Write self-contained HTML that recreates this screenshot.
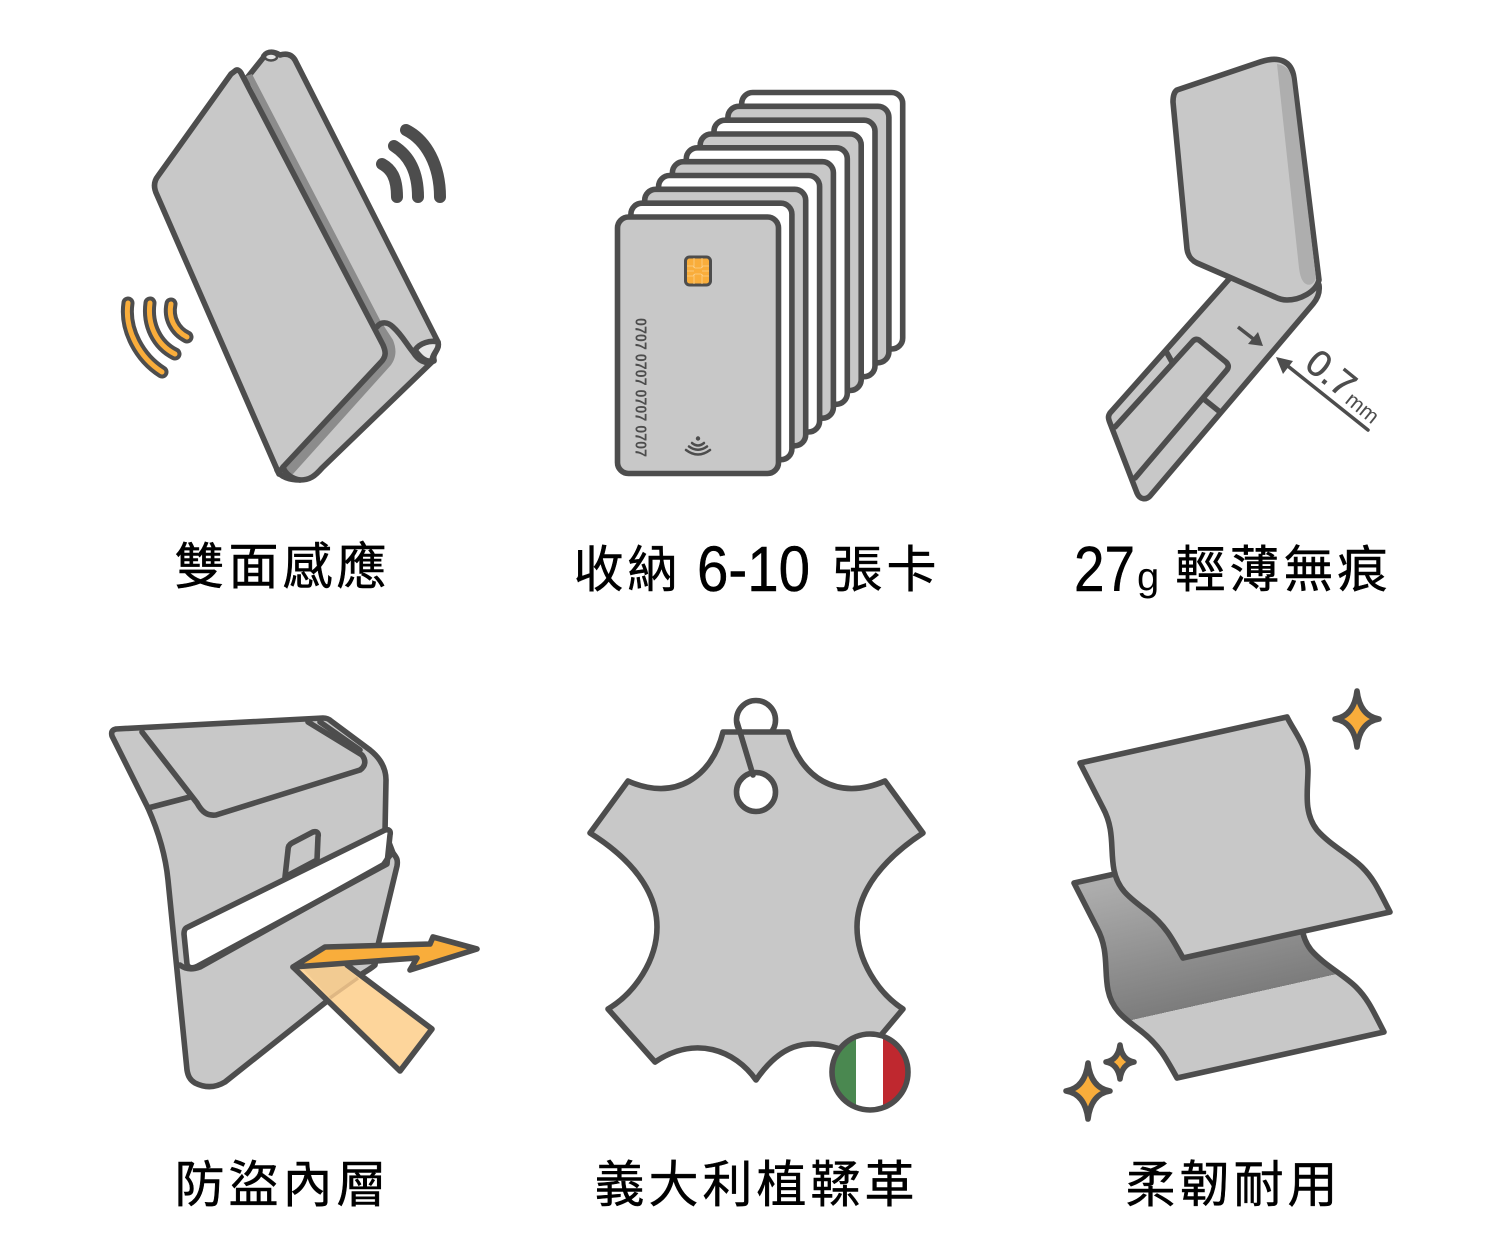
<!DOCTYPE html>
<html><head><meta charset="utf-8"><style>html,body{margin:0;padding:0;background:#fff}svg{display:block}
.s{stroke:#4d4d4d;stroke-width:5.6;stroke-linejoin:round;stroke-linecap:round}
.g{fill:#c8c8c8}.n{fill:none}
.t{font-family:"Liberation Sans","Noto Sans CJK TC",sans-serif;font-size:50px;letter-spacing:4px;fill:#000;stroke:#000;stroke-width:.5}
.l{font-family:"Liberation Sans",sans-serif;fill:#000}
</style></head><body>
<svg width="1500" height="1250" viewBox="0 0 1500 1250" xmlns="http://www.w3.org/2000/svg">
<defs>
<linearGradient id="gr" gradientUnits="userSpaceOnUse" x1="1100" y1="885" x2="1160.7" y2="1155.6">
<stop offset="0" stop-color="#adadad"/><stop offset=".5" stop-color="#7c7c7c"/><stop offset=".5" stop-color="#c8c8c8"/><stop offset="1" stop-color="#c8c8c8"/>
</linearGradient>
<clipPath id="fc"><circle cx="870" cy="1072" r="38"/></clipPath>
</defs>

<!-- wallet -->
<path class="s g" d="M247,78 L263,58 C265,52 272,50 280,55 C287,53 292,55 295,60 L438,342 C440,350 432,353 434,360 L322,468 C315,476 310,480 300,480 C290,480 280,477 277,470 Z"/>
<path fill="#8c8c8c" d="M246,76 L252,74 L380,320 L393,340 C397,350 396,358 391,365 L293,474 L280,472 L385,350 Z"/>
<path class="s g" d="M235,71 C237,69 240,70 242,75 L383,345 C386,352 386,356 382,361 L284,466 C281,470 279,472 279,474 L157,195 C153,187 154,181 158,176 L231,74 Z"/>
<path class="s n" d="M377,327 C381,321 388,322 393,327 C402,335 407,345 413,352 C418,360 425,365 434,361"/>
<path class="s" fill="#e6e6e6" d="M415,350 C420,343 430,340 438,342 C440,350 432,353 432,361 C425,362 420,357 415,350 Z"/>
<ellipse cx="271" cy="57" rx="6" ry="3.5" fill="#e6e6e6" stroke="#4d4d4d" stroke-width="2.5"/>
<path class="s n" d="M283,467 C285,474 293,479 300,480"/>
<g fill="none" stroke="#4d4d4d" stroke-width="12" stroke-linecap="round">
<path d="M382,164 C391,169 397,177 397,197"/><path d="M394,146 C408,155 418,170 418,197"/><path d="M406,130 C426,140 440,165 440,197"/>
</g>
<g fill="none" stroke="#4d4d4d" stroke-width="13" stroke-linecap="round">
<path d="M128,303 C124,330 140,358 162,372"/><path d="M150,303 C147,325 157,345 175,354"/><path d="M171,304 C168,318 175,331 187,337"/>
</g>
<g fill="none" stroke="#f9ad3b" stroke-width="5" stroke-linecap="round">
<path d="M128,303 C124,330 140,358 162,372"/><path d="M150,303 C147,325 157,345 175,354"/><path d="M171,304 C168,318 175,331 187,337"/>
</g>

<!-- cards -->
<g class="s">
<rect x="741.7" y="92.5" width="161" height="256.5" rx="11" fill="#fff"/>
<rect x="727.9" y="106.3" width="161" height="256.5" rx="11" fill="#c8c8c8"/>
<rect x="714" y="120.2" width="161" height="256.5" rx="11" fill="#fff"/>
<rect x="700.2" y="134" width="161" height="256.5" rx="11" fill="#c8c8c8"/>
<rect x="686.3" y="147.8" width="161" height="256.5" rx="11" fill="#fff"/>
<rect x="672.4" y="161.7" width="161" height="256.5" rx="11" fill="#c8c8c8"/>
<rect x="658.6" y="175.5" width="161" height="256.5" rx="11" fill="#fff"/>
<rect x="644.7" y="189.3" width="161" height="256.5" rx="11" fill="#c8c8c8"/>
<rect x="630.9" y="203.2" width="161" height="256.5" rx="11" fill="#fff"/>
<rect x="617.5" y="217" width="161" height="256.5" rx="11" fill="#c8c8c8"/>
</g>
<rect x="685.5" y="257" width="25" height="28" rx="4" fill="#f9ad3b" stroke="#4d4d4d" stroke-width="3"/>
<path d="M687,266H693L695,268H701L703,266H709M687,276H693L695,274H701L703,276H709M694,258V268M702,258V268M694,284V274M702,284V274M687,271H694M702,271H709" fill="none" stroke="#fbd08a" stroke-width=".8"/>
<text transform="translate(635.500,318) rotate(90)" font-family="Liberation Sans,sans-serif" font-weight="700" font-size="16" fill="#4d4d4d" textLength="139" lengthAdjust="spacingAndGlyphs">0707 0707 0707 0707</text>
<circle cx="698" cy="438.500" r="2.200" fill="#4d4d4d"/>
<g fill="none" stroke="#4d4d4d" stroke-width="2.500" stroke-linecap="round">
<path d="M692,443 Q698,448 704,443"/><path d="M689,446.500 Q698,453 707,446.500"/><path d="M686,450 Q698,459 710,450"/>
</g>

<!-- thin wallet -->
<path class="s g" d="M1230,278 L1110,413 C1108,416 1108,418 1110,423 L1137,493 C1140,500 1146,500 1150,496 L1313,304 C1318,298 1320,292 1319,285 Z"/>
<path class="s g" d="M1177,90 L1257,63 C1268,59 1276,58 1283,61 C1290,64 1293,70 1294,78 L1319,280 C1316,292 1300,300 1287,300 C1282,300 1279,299 1275,297 L1197,263 C1191,260 1188,256 1187,249 L1173,102 C1173,96 1174,92 1177,90 Z"/>
<path fill="#aeaeae" d="M1277,64 C1285,65 1291,70 1292,80 L1316,278 C1314,284 1310,286 1306,284 C1302,282 1300,276 1299,268 Z"/>
<path class="s n" d="M1167,353 L1172,362"/>
<path class="s n" d="M1115,427 L1193,341 C1195,339 1197,339 1199,340 L1226,362 C1229,365 1229,368 1226,371 L1135,478"/>
<path class="s n" d="M1205,400 L1220,412"/>
<path fill="none" stroke="#4d4d4d" stroke-width="3.500" d="M1238,327 L1256,341"/>
<path fill="#4d4d4d" d="M1263,346 L1248,344 L1258,332 Z"/>
<path fill="none" stroke="#4d4d4d" stroke-width="3.500" stroke-linecap="round" d="M1368,430 L1284,363"/>
<path fill="#4d4d4d" d="M1276,357 L1293,361 L1283,374 Z"/>
<text transform="translate(1303,367) rotate(39)" font-family="Liberation Sans,sans-serif" font-size="37" fill="#4d4d4d" stroke="#4d4d4d" stroke-width=".6" textLength="52" lengthAdjust="spacingAndGlyphs">0.7</text>
<text transform="translate(1344,402) rotate(39)" font-family="Liberation Sans,sans-serif" font-size="21" fill="#4d4d4d" textLength="36" lengthAdjust="spacingAndGlyphs">mm</text>

<!-- pocket -->
<path class="s g" d="M116,729 L323,718 C327,718 329,719 331,721 L370,750 C380,758 386,768 386,780 L385,832 L393,853 C397,858 398,860 397,866 L378,945 L375,965 C372,968 365,972 360,975 L225,1082 C215,1088 205,1088 195,1083 C190,1080 188,1076 187,1070 L168,880 C166,860 160,835 148,808 L112,736 C111,732 112,730 116,729 Z"/>
<path class="s n" d="M142,732 L197,803 C202,812 207,816 216,815 L360,770 C366,766 366,760 362,755 L308,722"/>
<path class="s n" d="M320,722 L360,750 M148,808 L190,797"/>
<path class="s g" d="M285,877 L288,850 C288,846 290,844 292,843 L313,832 C317,831 319,833 318,837 L317,860 Z"/>
<path class="s" fill="#fff" d="M188,927 L385,830 C389,829 391,831 390,835 L387,864 L198,966 C192,969 188,968 187,964 L184,934 C184,930 185,928 188,927 Z"/>
<path class="s n" d="M180,965 C185,969 192,970 200,967 L383,865 C386,862 388,856 393,853"/>
<path d="M293,967 L347,965 L432,1029 L400,1071 Z" fill="#fdd59b"/>
<path d="M303,969 L345,967 L358,978 L330,998 Z" fill="#f2cb92"/>
<path d="M330,998 L358,978" stroke="#dfb783" stroke-width="3.500" fill="none"/>
<path class="s n" d="M293,967 L400,1071 L432,1029 L347,965"/>
<path class="s" fill="#f9ad3b" d="M293,967 L325,947 L430,944 L433,937 L477,949 L410,970 L417,958 Z"/>

<!-- leather -->
<circle cx="756" cy="720" r="19.500" fill="#fff" stroke="#4d4d4d" stroke-width="5.600"/>
<path class="s g" d="M723,732 L788,732 C800,777 837,802 885,781 L923,833 C885,858 857,890 857,927 C857,960 878,993 903,1009 L860,1060 L837,1048 C805,1038 780,1045 756,1080 C735,1050 695,1035 655,1062 L608,1009 C635,993 657,960 657,927 C657,890 630,858 590,833 L628,781 C675,802 712,777 723,732 Z"/>
<circle cx="756" cy="792" r="19.500" fill="#fff" stroke="#4d4d4d" stroke-width="5.600"/>
<path class="s n" d="M737,722 L753,775"/>
<g clip-path="url(#fc)">
<rect x="830" y="1030" width="27" height="84" fill="#4a8850"/><rect x="856" y="1030" width="28" height="84" fill="#fff"/><rect x="883" y="1030" width="30" height="84" fill="#bf282f"/>
</g>
<circle cx="870" cy="1072" r="38" fill="none" stroke="#4d4d4d" stroke-width="5.600"/>

<!-- flexible -->
<path class="s" fill="url(#gr)" d="M1074,883 L1281,837 C1290,855 1301,865 1302,890 C1302,910 1297,932 1311,950 C1324,965 1344,975 1356,987 C1369,1000 1374,1013 1384,1032 L1177,1078 C1166,1058 1159,1045 1141,1031 C1124,1018 1112,1010 1108,990 C1104,970 1109,950 1097,928 Z"/>
<path class="s g" d="M1080,763 L1287,717 C1296,735 1307,745 1308,770 C1308,790 1303,812 1317,830 C1330,845 1350,855 1362,867 C1375,880 1380,893 1390,912 L1183,958 C1172,938 1165,925 1147,911 C1130,898 1118,890 1114,870 C1110,850 1115,830 1103,808 Z"/>
<path class="s" fill="#f9ad3b" d="M1357,691 Q1360,716 1379,719 Q1360,722 1357,747 Q1354,722 1335,719 Q1354,716 1357,691 Z"/>
<path class="s" fill="#f9ad3b" d="M1088,1063 Q1091,1088 1110,1091 Q1091,1094 1088,1119 Q1085,1094 1066,1091 Q1085,1088 1088,1063 Z"/>
<path class="s" fill="#f9ad3b" d="M1120,1045 Q1122,1060 1134,1062 Q1122,1064 1120,1079 Q1118,1064 1106,1062 Q1118,1060 1120,1045 Z"/>

<!-- labels -->
<text class="t" x="174.500" y="584">雙面感應</text>
<text class="t" x="573.500" y="587">收納</text>
<text class="l" x="697" y="591" font-size="64" stroke="#000" stroke-width=".5" textLength="113" lengthAdjust="spacingAndGlyphs">6-10</text>
<text class="t" x="832.500" y="587">張卡</text>
<text class="l" x="1074" y="591" font-size="64" stroke="#000" stroke-width=".5" textLength="61" lengthAdjust="spacingAndGlyphs">27</text>
<text class="l" x="1137" y="590" font-size="40">g</text>
<text class="t" x="1175.500" y="587">輕薄無痕</text>
<text class="t" x="174.500" y="1202">防盜內層</text>
<text class="t" x="594.500" y="1202">義大利植鞣革</text>
<text class="t" x="1125.500" y="1202">柔韌耐用</text>
</svg>
</body></html>
